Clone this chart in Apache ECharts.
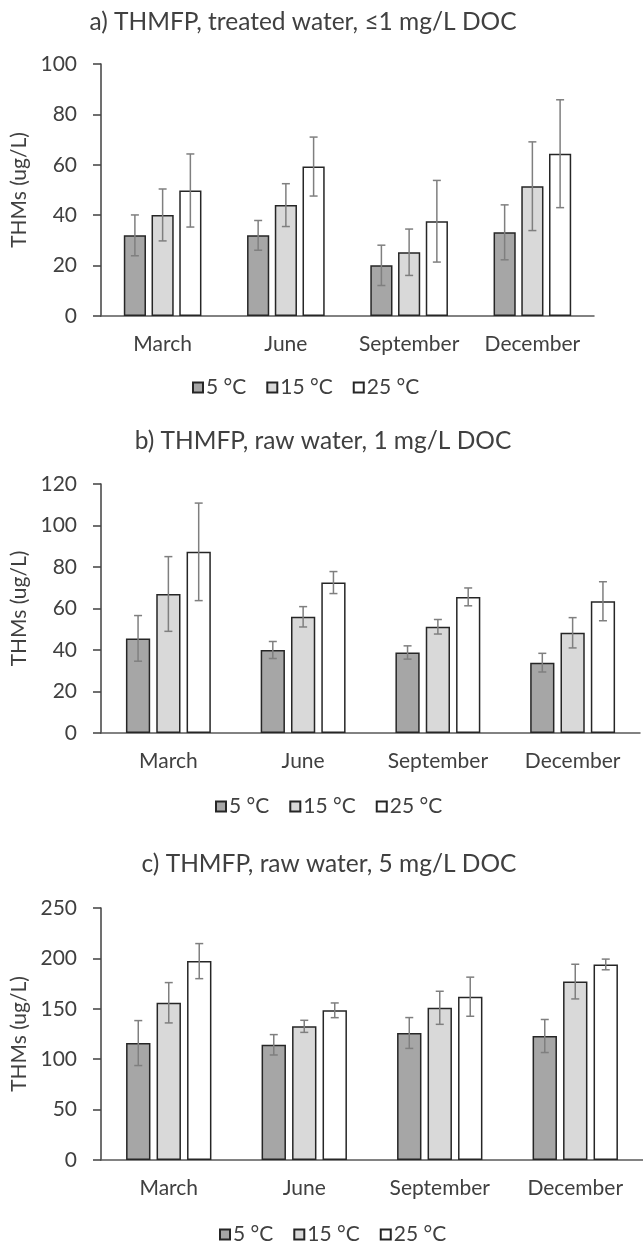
<!DOCTYPE html>
<html>
<head>
<meta charset="utf-8">
<script src="https://cdn.jsdelivr.net/npm/echarts@6/dist/echarts.min.js"></script>
<style>
  html, body { margin: 0; padding: 0; background: #fff; }
  #chart { width: 643px; height: 1245px; }
</style>
</head>
<body>
<div id="chart"></div>
<script>
const months = ['March', 'June', 'September', 'December'];
const temps = ['5 °C', '15 °C', '25 °C'];

// a) treated water, <=1 mg/L DOC  (mean / error)
const treated1_5 = [32, 32, 20.1, 33.2];
const treated1_15 = [40.1, 44, 25.3, 51.5];
const treated1_25 = [49.8, 59.3, 37.6, 64.4];
const treated1Err_5 = [8.1, 5.9, 8, 10.9];
const treated1Err_15 = [10.3, 8.5, 9.2, 17.6];
const treated1Err_25 = [14.5, 11.7, 16.2, 21.4];

// b) raw water, 1 mg/L DOC
const raw1_5 = [45.6, 40, 38.8, 33.9];
const raw1_15 = [67, 56, 51.2, 48.3];
const raw1_25 = [87.3, 72.5, 65.6, 63.5];
const raw1Err_5 = [11, 4.1, 3.2, 4.5];
const raw1Err_15 = [18, 4.9, 3.5, 7.3];
const raw1Err_25 = [23.5, 5.3, 4.3, 9.4];

// c) raw water, 5 mg/L DOC
const raw5_5 = [116, 114.3, 126, 123];
const raw5_15 = [156, 132.6, 151, 177];
const raw5_25 = [197.3, 148.5, 162, 194];
const raw5Err_5 = [22.3, 10.1, 15.3, 16.4];
const raw5Err_15 = [20, 6, 16.4, 17.2];
const raw5Err_25 = [17.4, 7.3, 19.4, 5.3];

const yMax = [100, 120, 250];
const yStep = [20, 20, 50];

const panels = [
  { title: 'a) THMFP, treated water, ≤1 mg/L DOC', vals: [treated1_5, treated1_15, treated1_25], errs: [treated1Err_5, treated1Err_15, treated1Err_25] },
  { title: 'b) THMFP, raw water, 1 mg/L DOC', vals: [raw1_5, raw1_15, raw1_25], errs: [raw1Err_5, raw1Err_15, raw1Err_25] },
  { title: 'c) THMFP, raw water, 5 mg/L DOC', vals: [raw5_5, raw5_15, raw5_25], errs: [raw5Err_5, raw5Err_15, raw5Err_25] }
];

const FONT = 'Lato';
const TXT = '#404040';
const fills = ['#a6a6a6', '#d9d9d9', '#ffffff'];
const CAT_GAP = 0.37, BAR_GAP = 0.25;

// layout (pixels)
const grids = [
  { left: 101, right: 49, top: 64, height: 252 },
  { left: 101, right: 3, top: 484, height: 249 },
  { left: 101, right: 0, top: 908, height: 252 }
];
const titlePos = [{ x: 303, y: 10 }, { x: 323, y: 429 }, { x: 329, y: 852 }];
const legendPos = [{ x: 192, y: 377 }, { x: 215, y: 796 }, { x: 219, y: 1224 }];

const chart = echarts.init(document.getElementById('chart'));

const errRender = (params, api) => {
  const cat = api.value(0), t = api.value(1), v = api.value(2), e = api.value(3);
  const c = api.coord([cat, v]);
  const band = api.size([1, 0])[0];
  const bw = band * (1 - CAT_GAP) / (3 + 2 * BAR_GAP);
  const x = c[0] + (t - 1) * bw * (1 + BAR_GAP);
  const yTop = api.coord([cat, v + e])[1];
  const yBot = api.coord([cat, v - e])[1];
  const cap = 4;
  const style = { stroke: '#7f7f7f', lineWidth: 1.5 };
  return {
    type: 'group',
    children: [
      { type: 'line', shape: { x1: x, y1: yTop, x2: x, y2: yBot }, style },
      { type: 'line', shape: { x1: x - cap, y1: yTop, x2: x + cap, y2: yTop }, style },
      { type: 'line', shape: { x1: x - cap, y1: yBot, x2: x + cap, y2: yBot }, style }
    ]
  };
};

const option = {
  backgroundColor: '#fff',
  animation: false,
  textStyle: { fontFamily: FONT, color: TXT },
  title: panels.map((p, i) => ({
    text: p.title,
    left: titlePos[i].x,
    top: titlePos[i].y,
    textAlign: 'center',
    padding: 0,
    textStyle: { fontFamily: FONT, fontSize: 24.5, fontWeight: 'normal', color: TXT }
  })),
  legend: panels.map((p, i) => ({
    data: temps,
    left: legendPos[i].x,
    top: legendPos[i].y,
    padding: 0,
    icon: 'rect',
    itemWidth: 10,
    itemHeight: 10,
    itemGap: 20,
    selectedMode: false,
    textStyle: { fontFamily: FONT, fontSize: 21, color: TXT, padding: [0, 0, 0, -2] }
  })),
  grid: grids.map(g => ({ left: g.left, right: g.right, top: g.top, height: g.height })),
  xAxis: panels.map((p, i) => ({
    type: 'category',
    gridIndex: i,
    data: months,
    axisTick: { show: false },
    axisLine: { lineStyle: { color: '#595959', width: 1.5 } },
    axisLabel: { interval: 0, margin: 18, fontSize: 21, color: TXT, fontFamily: FONT }
  })),
  yAxis: panels.map((p, i) => ({
    type: 'value',
    gridIndex: i,
    min: 0,
    max: yMax[i],
    interval: yStep[i],
    name: 'THMs (ug/L)',
    nameLocation: 'middle',
    nameGap: 57,
    nameTextStyle: { fontSize: 21, color: TXT, fontFamily: FONT },
    splitLine: { show: false },
    axisLine: { show: true, lineStyle: { color: '#404040', width: 1.5 } },
    axisTick: { show: true, length: 8, lineStyle: { color: '#404040', width: 1.5 } },
    axisLabel: { margin: 24, fontSize: 21, color: TXT, fontFamily: FONT }
  })),
  series: []
};

panels.forEach((p, i) => {
  temps.forEach((name, t) => {
    option.series.push({
      name: name,
      type: 'bar',
      xAxisIndex: i,
      yAxisIndex: i,
      data: p.vals[t],
      barGap: (BAR_GAP * 100) + '%',
      barCategoryGap: (CAT_GAP * 100) + '%',
      itemStyle: { color: fills[t], borderColor: '#262626', borderWidth: 1.5 }
    });
  });
  const errData = [];
  months.forEach((m, c) => {
    temps.forEach((name, t) => {
      errData.push([c, t, p.vals[t][c], p.errs[t][c]]);
    });
  });
  option.series.push({
    type: 'custom',
    xAxisIndex: i,
    yAxisIndex: i,
    renderItem: errRender,
    encode: { x: 0, y: 2 },
    data: errData,
    z: 5,
    silent: true
  });
});

chart.setOption(option);
</script>
</body>
</html>
